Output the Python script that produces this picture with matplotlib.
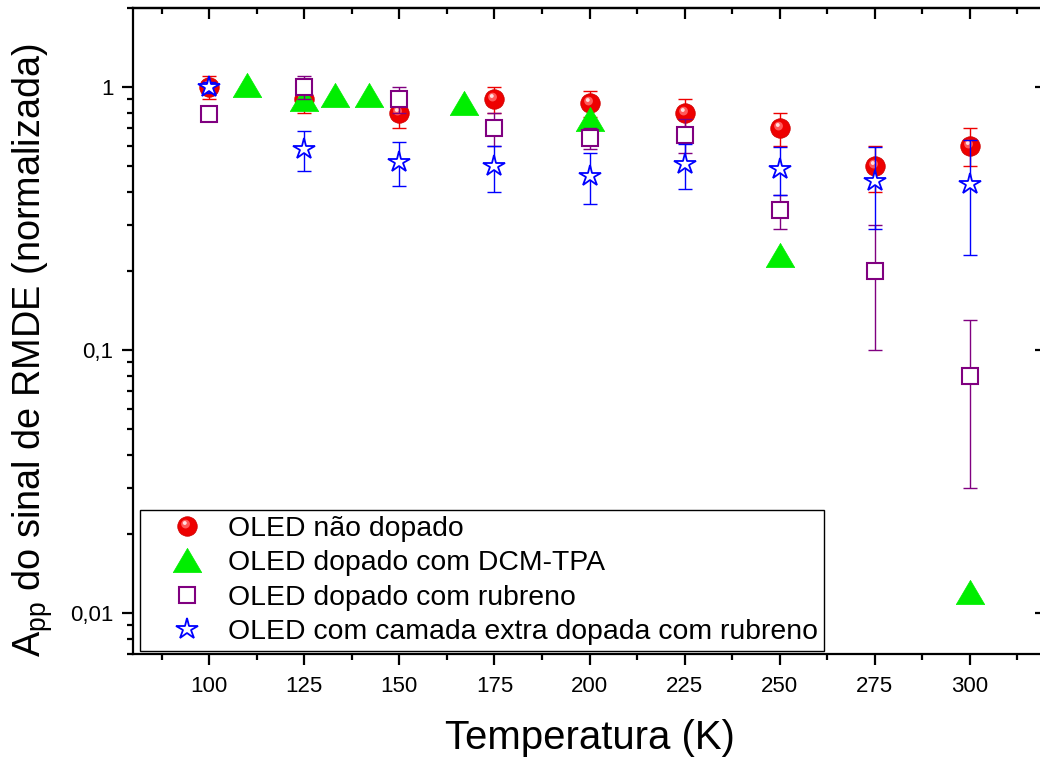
import numpy as np
import matplotlib.pyplot as plt
from matplotlib.lines import Line2D
from matplotlib.path import Path
from matplotlib.ticker import MultipleLocator, LogLocator, NullFormatter, FixedLocator, FixedFormatter

plt.rcParams['font.family'] = ['Liberation Sans', 'DejaVu Sans']
plt.rcParams['mathtext.default'] = 'regular'

# temperatures (K)
temps = [100, 125, 150, 175, 200, 225, 250, 275, 300]

# OLED nao dopado
undoped = [1.0, 0.9, 0.8, 0.9, 0.87, 0.8, 0.7, 0.5, 0.6]
undoped_err = [0.1, 0.1, 0.1, 0.1, 0.1, 0.1, 0.1, 0.1, 0.1]

# OLED dopado com DCM-TPA (own temperature grid, no error bars)
dcm_temps = [110, 125, 133, 142, 167, 200, 250, 300]
dcm = [1.02, 0.9, 0.93, 0.93, 0.87, 0.76, 0.23, 0.012]

# OLED dopado com rubreno
rub = [0.79, 1.0, 0.9, 0.7, 0.64, 0.66, 0.34, 0.2, 0.08]
rub_err = [0.04, 0.1, 0.1, 0.1, 0.06, 0.1, 0.05, 0.1, 0.05]

# OLED com camada extra dopada com rubreno
extra = [1.0, 0.58, 0.52, 0.5, 0.46, 0.51, 0.49, 0.44, 0.43]
extra_err = [0.05, 0.1, 0.1, 0.1, 0.1, 0.1, 0.1, 0.15, 0.2]

labels = ['OLED não dopado', 'OLED dopado com DCM-TPA',
          'OLED dopado com rubreno', 'OLED com camada extra dopada com rubreno']


def spot(cx, cy, r):
    # small circle inside a fixed [-1, 1] frame so the marker keeps its offset
    frame = Path([(-1, -1), (1, 1)], [Path.MOVETO, Path.MOVETO])
    return Path.make_compound_path(frame, Path.circle((cx, cy), r))


tri = Path([(0, 0.85), (-1, -0.85), (1, -0.85), (0, 0.85)],
           [Path.MOVETO, Path.LINETO, Path.LINETO, Path.CLOSEPOLY])

red = '#ee0000'
green = '#00ee00'
purple = '#800080'
blue = '#0000ff'

ball = dict(marker='o', ms=14, mfc=red, mec='#d00000', mew=0.6, ls='none')
glow = dict(marker=spot(-0.2, 0.25, 0.45), ms=14, mfc='#ff5a5a', mew=0, ls='none')
shine = dict(marker=spot(-0.28, 0.36, 0.2), ms=14, mfc='#ffe0e0', mew=0, ls='none')
tri_style = dict(marker=tri, ms=20.5, mfc=green, mec=green, mew=0.5, ls='none')
sq_style = dict(marker='s', ms=11.5, mfc='white', mec=purple, mew=1.5, ls='none')
star_style = dict(marker='*', ms=16, mfc='white', mec=blue, mew=1.3, ls='none')

fig = plt.figure(figsize=(10.4, 7.58), dpi=100)
ax = fig.add_axes([133 / 1040, 104 / 758, 913 / 1040, 646 / 758])

ax.errorbar(temps, undoped, yerr=undoped_err, fmt='none', ecolor=red,
            elinewidth=1.0, capsize=4.7, capthick=1.0)
ax.plot(temps, undoped, **ball)
ax.plot(temps, undoped, **glow)
ax.plot(temps, undoped, **shine)

ax.plot(dcm_temps, dcm, **tri_style)

ax.errorbar(temps, rub, yerr=rub_err, fmt='none', ecolor=purple,
            elinewidth=1.0, capsize=4.7, capthick=1.0)
ax.plot(temps, rub, **sq_style)

ax.errorbar(temps, extra, yerr=extra_err, fmt='none', ecolor=blue,
            elinewidth=1.0, capsize=4.7, capthick=1.0)
ax.plot(temps, extra, **star_style)

ax.set_yscale('log')
ax.set_xlim(80, 320)
ax.set_ylim(0.007, 2)

ax.xaxis.set_major_locator(MultipleLocator(25))
ax.xaxis.set_minor_locator(MultipleLocator(12.5))
ax.yaxis.set_major_locator(FixedLocator([0.01, 0.1, 1]))
ax.yaxis.set_major_formatter(FixedFormatter(['0,01', '0,1', '1']))
ax.yaxis.set_minor_locator(LogLocator(subs=np.arange(2, 10)))
ax.yaxis.set_minor_formatter(NullFormatter())

ax.tick_params(which='both', direction='out', width=1.6, labelsize=16,
               top=False, right=False)
ax.tick_params(which='major', length=8, pad=6)
ax.tick_params(axis='x', which='major', pad=7.5)
ax.tick_params(which='minor', length=4.5)
for s in ax.spines.values():
    s.set_linewidth(1.6)

# mirrored ticks pointing inward on top and right
top = ax.secondary_xaxis('top')
top.xaxis.set_major_locator(MultipleLocator(25))
top.xaxis.set_minor_locator(MultipleLocator(12.5))
top.xaxis.set_major_formatter(NullFormatter())
top.tick_params(which='both', direction='in', width=1.6)
top.tick_params(which='major', length=8)
top.tick_params(which='minor', length=4.5)
top.spines['top'].set_linewidth(1.6)

right = ax.secondary_yaxis('right')
right.yaxis.set_major_locator(FixedLocator([0.01, 0.1, 1]))
right.yaxis.set_minor_locator(LogLocator(subs=np.arange(2, 10)))
right.yaxis.set_major_formatter(NullFormatter())
right.yaxis.set_minor_formatter(NullFormatter())
right.tick_params(which='both', direction='in', width=1.6)
right.tick_params(which='major', length=8)
right.tick_params(which='minor', length=4.5)
right.spines['right'].set_linewidth(1.6)

ax.set_xlabel('Temperatura (K)', fontsize=28.9, labelpad=16)
ax.set_ylabel('A$_{pp}$ do sinal de RMDE (normalizada)', fontsize=27.3)
ax.yaxis.set_label_coords(-0.085, 0.47)

handles = [
    (Line2D([], [], **ball), Line2D([], [], **glow), Line2D([], [], **shine)),
    Line2D([], [], **tri_style),
    Line2D([], [], **sq_style),
    Line2D([], [], **star_style),
]
leg = ax.legend(handles, labels, loc='lower left', bbox_to_anchor=(0.008, 0.005),
                borderaxespad=0, fontsize=20.4, frameon=True, fancybox=False,
                framealpha=1, edgecolor='black', handlelength=2.9,
                handletextpad=0.0, labelspacing=0.3, borderpad=0.2)
leg.get_frame().set_linewidth(1.0)

plt.savefig('out.png', dpi=100)
